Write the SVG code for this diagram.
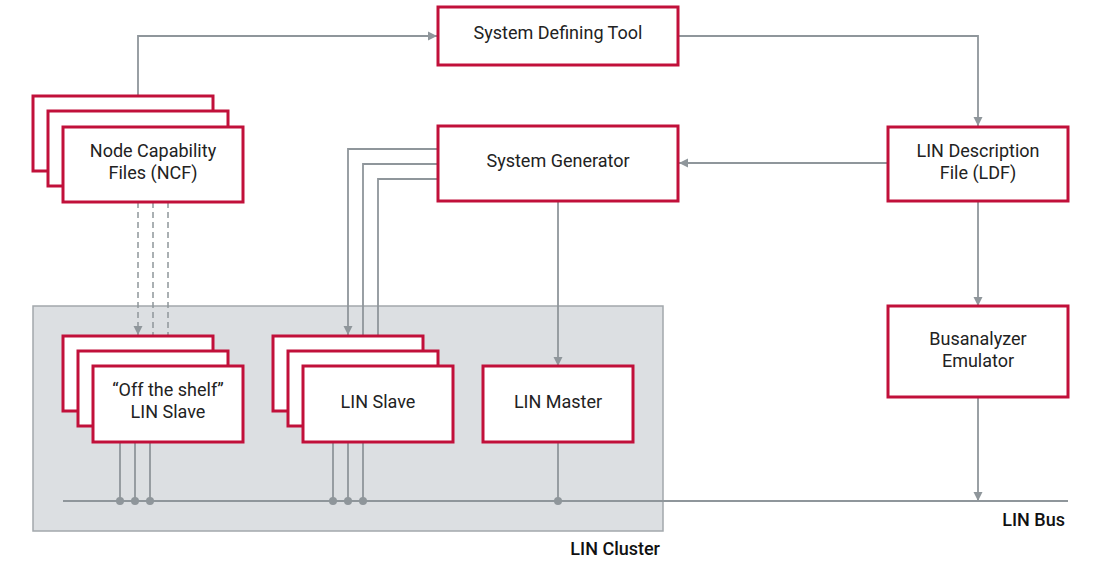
<svg xmlns="http://www.w3.org/2000/svg" width="1097" height="573" viewBox="0 0 1097 573">
<style>
.box{fill:#ffffff;stroke:#c1103a;stroke-width:3}
.lbl{font-family:Roboto,"Liberation Sans",sans-serif;font-size:18px;fill:#222;text-anchor:middle}
.big{font-family:Roboto,"Liberation Sans",sans-serif;font-size:18px;font-weight:500;fill:#111;text-anchor:end}
.ln{fill:none;stroke:#8f969b;stroke-width:1.8}
.dash{fill:none;stroke:#8f969b;stroke-width:1.5;stroke-dasharray:6,4}
.dot{fill:#8f969b}
</style>
<defs>
<marker id="arr" viewBox="0 0 10 10" refX="10" refY="5" markerWidth="9" markerHeight="10" markerUnits="userSpaceOnUse" orient="auto">
<path d="M0,0 L10,5 L0,10 z" fill="#8f969b"/>
</marker>
</defs>
<rect id="cluster" x="33" y="306" width="630" height="225" fill="#dcdfe2" stroke="#a3a8ac" stroke-width="1.5"/>
<g id="connectors">
<path class="ln" d="M138,95 V36 H437" marker-end="url(#arr)"/>
<path class="ln" d="M678,36 H978 V126" marker-end="url(#arr)"/>
<path class="ln" d="M887,163 H679" marker-end="url(#arr)"/>
<path class="ln" d="M978,201 V306" marker-end="url(#arr)"/>
<path class="ln" d="M978,397 V501" marker-end="url(#arr)"/>
<path class="ln" d="M558,201 V366" marker-end="url(#arr)"/>
<path class="ln" d="M437,149 H348 V335" marker-end="url(#arr)"/>
<path class="ln" d="M437,164 H363 V351" marker-end="url(#arr)"/>
<path class="ln" d="M437,179 H378 V366" marker-end="url(#arr)"/>
<path class="dash" d="M138,202 V335" marker-end="url(#arr)"/>
<path class="dash" d="M153,202 V351" marker-end="url(#arr)"/>
<path class="dash" d="M168,202 V366" marker-end="url(#arr)"/>
<path class="ln" d="M63,501 H1068"/>
<path class="ln" d="M120,443 V501 M135,443 V501 M150,443 V501 M333,443 V501 M348,443 V501 M363,443 V501 M558,443 V501"/>
<circle class="dot" cx="120" cy="501" r="4"/>
<circle class="dot" cx="135" cy="501" r="4"/>
<circle class="dot" cx="150" cy="501" r="4"/>
<circle class="dot" cx="333" cy="501" r="4"/>
<circle class="dot" cx="348" cy="501" r="4"/>
<circle class="dot" cx="363" cy="501" r="4"/>
<circle class="dot" cx="558" cy="501" r="4"/>
</g>
<g id="sdt">
<rect class="box" x="438" y="7" width="240" height="58"/>
<text class="lbl" x="558" y="39">System Defining Tool</text>
</g>
<g id="ncf">
<rect class="box" x="33" y="96" width="180" height="75"/>
<rect class="box" x="48" y="111" width="180" height="75"/>
<rect class="box" x="63" y="127" width="180" height="75"/>
<text class="lbl" x="153" y="157">Node Capability</text>
<text class="lbl" x="153" y="179">Files (NCF)</text>
</g>
<g id="sysgen">
<rect class="box" x="438" y="126" width="240" height="75"/>
<text class="lbl" x="558" y="167">System Generator</text>
</g>
<g id="ldf">
<rect class="box" x="888" y="127" width="180" height="74"/>
<text class="lbl" x="978" y="157">LIN Description</text>
<text class="lbl" x="978" y="179">File (LDF)</text>
</g>
<g id="busanalyzer">
<rect class="box" x="888" y="306" width="180" height="91"/>
<text class="lbl" x="978" y="345">Busanalyzer</text>
<text class="lbl" x="978" y="367">Emulator</text>
</g>
<g id="offshelf">
<rect class="box" x="63" y="336" width="150" height="75"/>
<rect class="box" x="78" y="351" width="150" height="75"/>
<rect class="box" x="93" y="366" width="150" height="76"/>
<text class="lbl" x="168" y="396">“Off the shelf”</text>
<text class="lbl" x="168" y="418">LIN Slave</text>
</g>
<g id="linslave">
<rect class="box" x="273" y="336" width="150" height="75"/>
<rect class="box" x="288" y="351" width="150" height="75"/>
<rect class="box" x="303" y="366" width="150" height="76"/>
<text class="lbl" x="378" y="408">LIN Slave</text>
</g>
<g id="linmaster">
<rect class="box" x="483" y="366" width="150" height="76"/>
<text class="lbl" x="558" y="408">LIN Master</text>
</g>
<text class="big" x="1065" y="526">LIN Bus</text>
<text class="big" x="660" y="555">LIN Cluster</text>
</svg>
